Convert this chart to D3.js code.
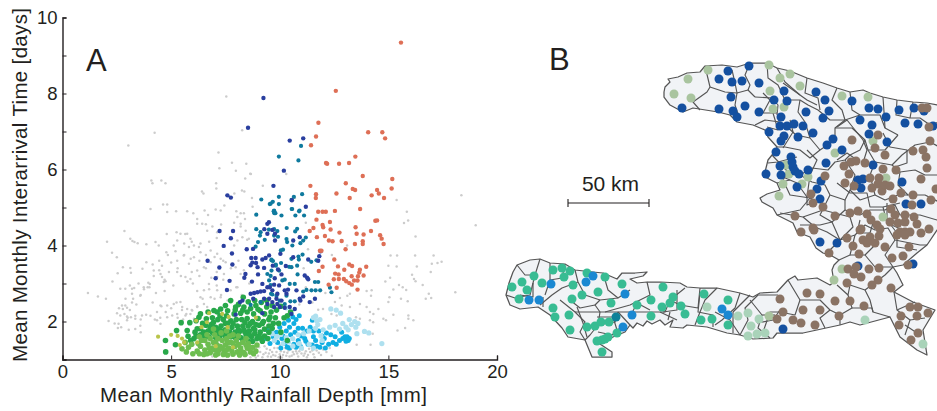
<!DOCTYPE html>
<html>
<head>
<meta charset="utf-8">
<script src="https://cdn.jsdelivr.net/npm/d3@7"></script>
<style>
body { margin: 0; background: #fff; }
svg { display: block; }
text { font-family: "Liberation Sans", Arial, sans-serif; fill: #231f20; }
</style>
</head>
<body>
<script>
// Panel A: [rainfall depth mm, interarrival days]
const greyDots = [[1.17,2.75],[1.63,2.66],[2,2.6],[2.3,3.05],[2.54,3.27],[2.78,3.43],[3.12,3.41],[3.68,3.39],[2.05,4.1],[2.28,3.81],[2.5,3.69],[2.85,4.38],[3.12,4.18],[3.22,4.12],[3.31,4.09],[3.46,4.06],[3.86,4.03],[4.28,4.09],[4.43,4],[4.05,4.96],[4.63,5.08],[4.82,5.08],[4.82,4.88],[5.23,4.9],[6.54,4.92],[5.74,4.9],[6.02,4.85],[6.2,4.7],[6.43,4.57],[6.6,4.56],[7.54,7.92],[4.24,6.97],[3.03,6.63],[7.18,6.45],[7.8,6.18],[8.46,6.15],[7.98,5.97],[7.22,6.03],[8.64,5.89],[8.41,5.76],[7.07,5.64],[7.08,5.5],[4.09,5.71],[4.14,5.64],[4.55,5.71],[4.74,5.64],[6.42,5.42],[6.49,5.37],[8.26,5.45],[8.37,5.42],[7.91,5.37],[8.27,7.03],[8.67,5.88],[10.3,5.88],[9.22,5.57],[8.72,5.25],[8.75,5.02],[18.36,5.32],[15.38,5.2],[15.85,4.89],[15.91,4.66],[15.72,4.59],[19.02,4.53],[16.25,4.24],[15.1,3.74],[15.4,3.74],[16.23,3.74],[17.08,3.74],[17.45,3.57],[17.26,3.54],[17,3.52],[15,3.47],[15.38,3.45],[16.31,3.45],[16.95,3.3],[16.09,3.23],[16.18,3.12],[16.25,3.06],[16.58,2.96],[14.86,3.05],[15.08,3.15],[15.49,2.96],[15.23,2.84],[15.66,2.9],[15.82,2.83],[18.08,2.77],[16.86,2.73],[16.97,2.62],[16.72,2.6],[15.58,2.6],[15.89,2.53],[15.05,2.64],[14.54,2.33],[15,2.51],[14,2.8],[14.23,2.82],[14.2,2.68],[14,2.38],[14.15,2.25],[14.31,2.2],[14.77,2.07],[15.23,2.18],[15.92,2.16],[15.92,2.07],[16.15,2.03],[14.89,2.03],[15.42,1.76],[15.77,1.83],[14.15,2.03],[14.3,1.98],[14.28,1.68],[13.54,1.39],[14.18,1.39],[13.11,2.68],[13.23,2.73],[12.77,2.62],[12.54,2.51],[12.85,2.42],[11.99,2.33],[11.77,2.31],[12.38,2.2],[12.62,2.16],[13.23,2.38],[13.69,2.07],[13.51,2.11],[13.69,2.46],
[3.1,2.95],[3.3,2.88],[3.5,3],[3.75,2.85],[4,2.9],[2.9,2.6],[3.2,2.5],[3.4,2.45],[3.6,2.7],[2.6,2.35],[2.85,2.2],[3,2.1],[3.1,2.3],[3.35,2.15],[3.6,2.05],[3.85,2.18],[2.4,1.95],[2.7,1.85],[3.05,1.78],[3.35,1.8],[3.6,1.72],[4.05,2.15],[3.15,3.28],[3.95,3.02],[4.2,3.2],[4.45,3.35],[4.7,3.1],[4.9,3.3],[5,3.55],[5.3,3.4],[5.45,3.2],[5.1,2.95],[4.7,2.8],[4.3,2.75],[4.15,2.5],[4.55,2.4],[4.75,2.25],[5,2.35],[5.25,2.5],[5.5,2.3],[5.7,2.2],[5.95,2.3],[5.55,2.05],[5.3,2.1],[4.5,2.1],[4.25,2.05],[6.2,2.4],[6.45,2.6],[6.2,2.8],[6,3],[5.75,3.05],[5.95,3.3],[6.3,3.2],[6.6,3.4],[6.85,3.15],[7.1,3.3],[7.1,2.95],[6.75,2.85],[7.3,2.7],[7.6,2.55],[7,2.6],[7.4,3.1],[7.4,3.6],[7,3.7],[6.6,3.75],[6.3,3.6],[5.9,3.65],[5.6,3.75],[5.2,3.85],[4.85,3.75],[4.45,3.6],[4.15,3.5],[5.6,4.05],[5.95,4.1],[6.35,4.05],[6.75,4.1],[7.1,4.2],[7.3,4.55],[6.9,4.5],[5.65,4.3],[5.25,4.35],[4.8,4.3],[8,4.9],[7.9,4.6],[8.2,4.5],[8.4,4.7],[8.5,4.15],[7.9,4],[8.1,3.6],[7.75,3.4],[8.35,3.35],[8.6,3],[8,2.9],[8.25,2.7],[6.7,4.8],[7.05,4.95],[7.45,5.05],
[10.7,5.25],[11.2,4.6],[11.3,3.9],[11.1,3.4],[12.4,3.75],[13.1,4],[12.1,2.75],[10.9,2.45],[11.5,2.5],[11.2,2.9],
[2.74,2.42],[2.89,2.42],[2.97,2.36],[2.78,2.33],[2.51,2.22],[2.66,2.16],[2.97,2.13],[3.15,2.11],[3.35,2.07],[3.66,2.16],[2.58,1.94],[2.97,2.03],[3.58,1.89],[2.12,2.01],[2.55,1.83],[2.66,2.86],[2.89,2.86],[3.2,2.86],[3.2,2.73],[3.25,2.6],[3.58,2.68],[3.74,2.9],[3.92,2.9],[4.02,2.99],[4.66,3.04],[4.74,3.06],[4.51,3.25],[4.58,3.17],[4.2,3.34],[3.86,3.56],[4.58,3.47],[4.78,3.82],[5.12,4],[5.28,3.6],[5.58,3.74],[5.82,3.96],[6.05,4],[6.28,3.96],[6.35,3.82],[6.05,3.69],[5.82,3.52],[5.28,3.3],[5.66,3.17],[5.89,3.12],[6.2,3.34],[6.51,3.43],[6.82,3.56],[7.12,3.78],[7.28,3.65],[7.51,3.56],[6.82,3.87],[5.43,4.31],[5.74,4.31],[5.28,4.13],[5.89,4.18],[6.2,4.57],[6.66,4.39],[7.12,4.35],[7.28,4.92],[8.2,4.85],[8.35,4.85],[8.05,4.75],[8.2,4.57],[8.43,4.39],[8.28,4.22],[8.05,4.13],[8.58,4.18],[4.35,2.25],[4.82,2.42],[5.12,2.46],[5.43,2.51],[5.51,2.38],[5.74,2.33],[5.97,2.29],[6.2,2.38],[6.51,2.46],[6.66,2.38],[4.51,2.42],[4.35,2.03],[4.51,1.94],[4.82,2.11],[5.05,2.16],[5.28,2.2],[5.66,2.16],[5.89,2.2],[6.05,2.07],[6.74,2.99],[7.12,2.82],[6.82,2.64],[7.28,2.64],[6.51,2.82],[6.35,2.64],[7.12,3.17],[7.43,3.25],[8.05,2.9],[7.74,2.82],[8.2,3.25],[7.97,3.43],
[6.6,1.12],[6.9,1.08],[7.1,1.28],[7.3,1.2],[7.55,1.08],[7.8,1.1],[8,1.22],[8.2,1.08],[8.35,1.2],[8.5,1.12],[8.65,1.06],[8.8,1.18],[8.9,1.3],[9,1.1],[9.1,1.2],[9.2,1.06],[9.3,1.35],[9.35,1.18],[9.45,1.08],[9.55,1.25],[9.6,1.42],[9.7,1.12],[9.75,1.3],[9.85,1.2],[9.95,1.06],[10,1.38],[10.05,1.22],[10.15,1.12],[10.25,1.3],[10.3,1.48],[10.35,1.18],[10.45,1.08],[10.5,1.26],[10.6,1.38],[10.65,1.14],[10.75,1.22],[10.85,1.08],[10.95,1.28],[11,1.16],[11.1,1.1],[11.2,1.22],[11.3,1.12],[11.4,1.2],[11.55,1.14],[11.7,1.24],[11.9,1.12],[9.2,1.5],[9.5,1.55],[9.9,1.5],[8.6,1.35],[8.75,1.45],[12.15,1.2],[12.4,1.1],[7.4,1.42],[7.7,1.3],
[8.9,1.05],[8.95,1.2],[9.05,1.32],[9.25,1.14],[9.4,1.28],[9.5,1.16],[9.6,1.07],[9.65,1.2],[9.8,1.1],[9.9,1.3],[10,1.14],[10.1,1.05],[10.1,1.28],[10.2,1.2],[10.3,1.1],[10.4,1.24],[10.55,1.1],[10.6,1.2],[10.7,1.3],[10.8,1.16],[10.9,1.22],[11.05,1.26],[11.15,1.16],[11.25,1.06],[11.35,1.28],[11.5,1.24],[11.6,1.06],[11.8,1.18],[12,1.26],[12.3,1.3]];
const cyanDots = [[9.4,1.78],[9.6,1.75],[9.7,1.6],[9.85,1.72],[10,1.85],[10.2,1.95],[10.4,2.03],[10.45,1.85],[10.6,2.12],[10.5,1.65],[10.7,1.72],[10.85,1.82],[10.75,2.05],[10.9,2.15],[10.1,1.55],[9.9,1.45],[10.25,1.42],[10.45,1.3],[10.65,1.4],[10.85,1.5],[11,1.62],[11.15,1.55],[11.25,1.75],[11.05,1.82],[11.4,1.85],[11.55,1.6],[11.65,1.5],[11.3,1.4],[11.5,1.38],[11.7,1.35],[11.95,1.45],[12.05,1.55],[12.15,1.7],[12.35,1.65],[12.55,1.6],[12.45,1.45],[12.6,1.4],[12.25,1.4],[12.1,1.3],[12.9,1.55],[13,1.6],[13.15,1.5],[13.1,1.6],[13.05,1.48],[11.8,1.75],[11.95,1.62],[11.55,1.75],[11.2,1.48],[10.95,1.35],[10.75,1.32],[10.35,1.32],[10.15,1.62],[10.3,1.75],[9.55,1.42],[9.35,1.55],[10.65,1.95],[11.5,2.03],[10.05,1.3],[12.85,1.72],[12.75,1.5],[11.85,1.32],[13.2,1.55]];
const paleDots = [[14.7,1.42],[12.8,2.22],[13.45,2],[13.6,1.95],[13.3,1.92],[13.5,1.85],[13.2,2.05],[13.05,1.85],[12.9,1.95],[12.35,2.33],[12.6,2.3],[11.7,2.02],[11.55,2.1],[11.85,2.05],[11.75,1.92],[11.65,1.82],[12,1.78],[12.3,1.85],[12.55,1.9],[12.75,1.8],[13.15,1.78],[13.9,1.74],[14.1,1.7],[13.55,1.68],[11.35,1.75],[11.1,1.68],[10.85,1.65],[10.6,1.55],[10.3,1.58],[10.05,1.66],[9.85,1.6],[9.65,1.68],[10.15,1.42],[10.6,1.35],[10.9,1.42],[11,1.3],[11.35,1.4],[11.55,1.3],[11.95,1.5],[10.3,2.36],[11.65,2.14],[11.9,1.62],[9.75,1.5],[10.4,1.46]];
const oliveDots = [[4.4,1.6],[5,1.65],[5.3,1.62],[5.6,1.45],[5.4,1.38],[6.65,1.98],[6.75,2.22],[7.35,2.2],[7.65,2.12],[8.9,2.1],[7.6,1.85],[6.2,1.45],[6.15,2.02],[7.05,1.35],[5.5,1.55],[6.4,1.85],[7.85,1.32]];
const greenDots = [[4.75,1.2],[4.74,1.5],[5.2,1.39],[5.25,1.76],[5.46,1.97],[5.86,1.97],[5.74,1.76],[5.78,1.61],[6.2,1.81],[6.35,1.81],[6.28,2.11],[6.62,2.07],[6.35,2.2],[6.97,2.29],[7.12,2.25],[7.28,2.33],[7.74,2.55],[8.32,2.64],[7.97,2.38],[8.35,2.38],[8.66,2.34],[8.9,2.42],[9.15,2.5],[9.4,2.38],[9.6,2.25],[9.8,2.1],[9.95,1.95],[9.7,1.95],[9.5,2.05],[9.3,2.2],[9.1,2.28],[8.8,2.2],[8.5,2.25],[8.2,2.22],[7.9,2.2],[7.6,2.28],[7.4,2.05],[7.15,2.05],[6.9,2.1],[6.6,1.9],[6.85,1.92],[7.05,1.85],[7.3,1.88],[7.5,1.95],[7.75,2.02],[8,2.05],[8.25,2.05],[8.5,2.08],[8.75,2],[9,2.08],[9.25,2],[9.5,1.88],[9.3,1.8],[9.05,1.9],[8.8,1.82],[8.55,1.88],[8.3,1.88],[8.05,1.88],[7.8,1.85],[6.5,1.72],[6.7,1.75],[6.9,1.72],[7.1,1.72],[7.3,1.75],[7.5,1.78],[7.7,1.72],[7.95,1.72],[8.15,1.74],[8.4,1.72],[8.6,1.75],[8.85,1.68],[9.1,1.72],[9.3,1.62],[9.5,1.72],[9.15,1.55],[8.95,1.55],[8.7,1.6],[8.45,1.62],[8.2,1.58],[7.95,1.58],[7.75,1.6],[7.5,1.62],[7.25,1.62],[7.05,1.58],[6.75,1.6],[6.55,1.6],[6.35,1.65],[6.05,1.55],[5.9,1.5],[6.15,1.62],[8.55,1.48],[8.3,1.52],[9.45,1.55],[9.65,1.82],[10.05,1.72],[10.2,2.1],[9.85,2.3],[10.05,2.4],[10.35,2.15],[10.5,2.25],[9.65,2.42],[9.4,2.55],[8.1,2.45],[8.55,2.52],[7.55,2.15],[7.25,2.15],[6.95,1.98],[7.6,1.95],[8.65,1.95],[8.9,1.92],[9.2,1.95],[8.4,1.98],[7.85,1.95],[8.1,1.78],[7.6,1.68],[7.4,1.68],[7.2,1.8],[6.8,1.85],[6.45,1.95],[8.35,1.78],[8.6,1.65],[8.85,1.78],[9.05,1.62],[9.2,1.48],[8.75,1.48],[6.15,2.02],[6.1,1.72],[8.3,2.3],[7.95,2.3],[9,2.32],[9.55,2.12],[10.35,1.5],[6.7,2.25],[7.5,2.42],[8.85,2.55]];
const lightGreenDots = [[6,1.15],[6.2,1.22],[6.35,1.35],[6.3,1.15],[6.5,1.13],[6.55,1.25],[6.7,1.4],[6.55,1.5],[6.8,1.55],[6.9,1.3],[7,1.65],[7.05,1.45],[7.15,1.55],[7.25,1.35],[7.35,1.5],[7.45,1.2],[7.5,1.38],[7.55,1.55],[7.6,1.12],[7.65,1.3],[7.75,1.45],[7.8,1.22],[7.85,1.14],[7.95,1.35],[8,1.5],[8.05,1.2],[8.15,1.12],[8.2,1.3],[8.3,1.45],[8.35,1.18],[8.4,1.13],[8.5,1.3],[8.55,1.42],[8.65,1.2],[8.75,1.32],[8.8,1.15],[7,1.25],[7.15,1.15],[6.8,1.18],[6.4,1.5],[6.25,1.42],[5.95,1.4],[5.8,1.32],[5.7,1.2],[5.5,1.28],[5.65,1.45],[7.3,1.7],[7.55,1.75],[6.95,1.8],[7.85,1.65],[8.1,1.62],[8.45,1.55],[7.2,1.25],[7.4,1.13],[7.7,1.62],[6.65,1.65],[6.3,1.6],[6.75,1.3],[6.95,1.45],[7.1,1.38],[7.35,1.3],[7.6,1.45],[7.85,1.42],[8.1,1.4],[8.25,1.2],[8.45,1.38],[8.6,1.32],[8.9,1.22],[8.95,1.38],[7.55,1.25],[7.05,1.12],[6.65,1.15]];
const blueDots = [[9.25,7.88],[10.46,6.76],[11.08,6.82],[10.19,5.97],[9.71,5.57],[10.56,5.19],[11.2,5.02],[8.54,7.1],[7.59,5.32],[7.75,5.26],[9.5,4.61],[9.43,4.57],[9.29,4.43],[7.23,4.38],[7.85,4.38],[7.75,4.19],[7.42,3.99],[8.48,3.9],[8.77,3.91],[7.8,3.79],[6.68,3.6],[7.82,3.5],[7.22,3.42],[7.05,3.14],[7.69,3.07],[7.57,2.83],[8.37,3.15],[8.42,3.25],[8.72,3.05],[9,3.24],[9.43,4.31],[8.69,3.67],[8.89,3.67],[8.74,3.55],[8.91,3.54],[9.2,3.63],[9.35,3.67],[9.51,3.74],[8.66,3.48],[8.98,3.43],[9.28,3.41],[9.68,3.47],[8.66,2.73],[8.82,2.75],[8.97,2.77],[9.12,2.79],[9.28,2.8],[9.2,2.99],[9.43,2.9],[9.66,2.82],[9.74,2.97],[9.89,2.73],[8.28,2.55],[8.17,2.51],[8.78,2.6],[9.28,2.6],[9.51,2.6],[9.89,2.46],[9.43,2.46],[9.74,2.38],[7.97,2.18],[9.2,2.22],[9.78,4.31],[9.78,4.13],[9.66,4.41],[10.62,4.13],[10.92,4.22],[10.03,3.78],[11.82,3.72],[11.88,3.85],[11.77,3.6],[11.31,3.63],[10.62,3.69],[9.92,3.37],[10.28,3.46],[11.15,3.21],[11.26,3.15],[11.31,3.11],[10.08,3.24],[9.77,3.14],[9.97,2.95],[10.23,2.82],[10.38,2.84],[10.31,2.73],[9.85,2.6],[10.08,2.55],[9.66,2.51],[11.08,2.66],[10.95,2.55],[11.62,2.6],[11.38,2.51],[10.46,2.38],[10.69,2.33],[10.23,2.36],[10,2.38],[10.54,2.2],[10.77,2.82],[10.92,2.6],[9.54,2.9]];
const tealDots = [[10.98,6.62],[9.96,6.34],[10.86,6.24],[9.96,5.28],[10.65,5.28],[11.03,5.35],[9.15,5.21],[9.68,5.15],[9.54,5.09],[9.96,5.09],[10.57,4.96],[10.91,4.92],[9.74,4.92],[9.58,5.1],[9.74,4.9],[9.8,4.85],[8.92,4.81],[8.92,4.43],[9.12,4.35],[9.09,4.26],[9.31,4.15],[9.74,4.43],[9.5,4.42],[9.89,4.38],[9.74,4.26],[9,4.09],[8.89,3.97],[9.62,3.61],[9.82,3.5],[9.43,3.25],[9.58,3.2],[9.51,3.08],[9.97,3.34],[9.58,2.96],[9.12,2.51],[8.66,2.44],[9.66,2.71],[9.72,4.9],[10.54,5.2],[10.55,4.96],[10.72,4.79],[10.89,4.9],[11.12,4.79],[10.08,4.79],[9.75,4.85],[10.32,4.46],[10.71,4.37],[10.8,4.44],[9.92,4.23],[10.31,4.17],[10.34,4.09],[10.58,4],[10.95,4.06],[11.08,4.13],[11.2,4.21],[10.05,3.87],[10.15,3.89],[10.86,3.71],[11.05,3.76],[10.54,3.65],[10.88,3.63],[11.45,3.57],[11.69,3.61],[9.62,3.63],[9.69,3.59],[10.06,3.54],[10.43,3.44],[10.54,3.43],[10.8,3.47],[9.82,3.47],[9.62,3.34],[10.82,3.24],[10.12,3.08],[10.23,3.1],[10.46,2.99],[10.69,2.99],[11.62,3.04],[11.77,3.04],[12.31,2.89],[12.38,2.77],[11.23,2.83],[11.46,2.82],[11.65,2.82],[11.86,2.82],[11.08,2.79],[9.6,2.73],[9.85,2.68],[10.23,2.46],[10.49,2.53],[10.69,2.53],[10.31,2.68],[10,2.55]];
const orangeDots = [[15.58,9.34],[12.58,8.07],[11.78,7.23],[14.07,6.98],[14.72,6.98],[14.85,6.82],[11.67,6.87],[11.44,6.64],[13.48,6.34],[12.13,6.17],[12.18,6.15],[12.73,6.15],[13.19,6.17],[13.82,5.83],[15.18,5.75],[13.04,5.64],[11.41,5.57],[13.36,5.49],[13.47,5.46],[15.15,5.5],[14.48,5.46],[14.56,5.37],[12.61,5.37],[11.67,5.35],[11.66,5.25],[14.23,5.32],[14.8,5.25],[13.22,5.25],[13.7,4.96],[11.77,4.89],[11.97,4.89],[12.12,4.89],[12.54,4.91],[11.69,4.68],[12.31,4.62],[11.97,4.54],[12,4.48],[11.55,4.46],[11.38,4.38],[12.34,4.42],[12.75,4.34],[14.4,4.65],[14.48,4.66],[13.49,4.48],[13.54,4.31],[13.86,4.29],[14.2,4.38],[14.62,4.27],[14.69,4.18],[14.78,4.04],[11.71,4.22],[12.08,4.25],[12.26,4.13],[12.43,4.11],[12.85,4.12],[13.46,4.04],[13.82,4.11],[13.82,4.04],[13.03,3.9],[11.85,3.86],[11.92,3.86],[12.51,3.63],[13.2,3.5],[12.68,3.45],[13.33,3.46],[13.98,3.44],[12.97,3.36],[13.69,3.36],[11.97,3.44],[11.8,3.33],[12.55,3.26],[12.71,3.24],[13.31,3.19],[13.66,3.29],[13.86,3.21],[13.6,3.19],[12.49,3.11],[12.72,3.12],[12.95,3.12],[13.06,3.06],[13.2,3.01],[13.32,2.97],[13.42,3.08],[13.58,3.08],[12.25,2.97],[12.62,2.89],[13.58,2.84]];

const xTicks = [0, 5, 10, 15, 20];
const yTicks = [1, 2, 3, 4, 5, 6, 7, 8, 9, 10];
const yLabels = [2, 4, 6, 8, 10];

// Panel B: everything in map grid units, scale bar is 50 km = 81 units
const haitiOutline = [[164,42],[165,37],[170,32],[168,29],[178,27],[187,23],[200,22],[205,16],[222,15],[237,17],[250,13],[267,13],[277,18],[290,21],[307,28],[323,33],[337,38],[350,42],[363,40],[370,43],[383,47],[397,50],[413,52],[427,53],[437,55],[445,55],[445,178],[437,180],[427,195],[417,203],[403,215],[393,217],[397,223],[403,235],[394,242],[413,252],[435,260],[423,280],[427,305],[417,300],[400,287],[390,267],[360,275],[350,272],[340,275],[303,283],[277,283],[273,288],[253,289],[240,285],[227,283],[207,277],[187,275],[183,278],[170,277],[173,270],[165,275],[160,270],[152,274],[147,271],[143,276],[137,273],[133,278],[130,275],[125,282],[113,287],[100,294],[112,302],[112,307],[92,307],[85,290],[68,287],[62,278],[50,265],[38,257],[20,259],[10,255],[6,245],[9,233],[13,222],[17,215],[30,210],[40,209],[50,213],[65,214],[75,220],[93,222],[103,223],[117,229],[122,223],[135,223],[147,222],[143,226],[130,229],[137,233],[147,232],[160,232],[180,233],[187,237],[200,238],[217,238],[240,243],[253,247],[260,243],[277,242],[288,230],[295,226],[298,230],[317,228],[330,235],[334,232],[332,220],[334,215],[339,210],[332,206],[323,203],[316,198],[310,187],[297,182],[293,173],[277,165],[273,158],[262,152],[260,148],[267,144],[280,140],[277,133],[265,127],[265,122],[268,110],[272,105],[277,97],[268,87],[265,80],[253,75],[237,72],[230,65],[218,62],[193,58],[183,62],[170,55],[164,47]];
const communeLines = [
[[205,16],[210,37],[207,42],[193,52],[200,60]],[[232,20],[235,33],[237,43],[248,40],[255,47]],[[210,37],[225,42],[237,43]],[[237,43],[235,55],[240,70]],[[255,47],[272,48],[278,55],[277,65]],[[250,13],[245,25],[250,35],[248,40]],[[267,13],[268,28],[278,35],[285,50],[300,50],[308,55],[318,60],[330,70],[345,70]],[[277,18],[285,32],[300,45]],[[307,28],[305,43],[318,48],[320,60]],[[337,38],[332,50],[342,60],[345,70],[360,65],[380,65],[385,78],[398,85]],[[350,42],[352,60],[360,65]],[[383,47],[384,62],[385,78]],[[397,50],[396,65],[410,68]],[[413,52],[410,68],[420,68],[430,75],[445,70]],[[345,70],[335,78],[335,90],[320,100],[310,108],[300,100],[285,97],[277,97]],[[285,75],[296,85],[310,88],[320,100]],[[255,75],[265,70],[280,72],[285,75]],[[300,50],[298,62],[305,72],[310,88]],[[335,78],[352,78],[365,90],[368,100],[385,100],[398,85]],[[365,90],[360,100],[350,105],[345,110],[335,112],[328,120],[312,118],[300,125],[288,122],[272,105]],[[368,100],[375,112],[392,115],[402,105],[415,95],[430,92],[445,100]],[[392,115],[400,122],[415,120],[425,125],[445,125]],[[345,110],[355,125],[350,140],[345,150],[330,145],[325,135],[312,132],[300,125]],[[375,112],[370,125],[375,145],[360,150],[350,140]],[[400,122],[398,135],[408,145],[425,145],[445,155]],[[375,145],[385,150],[398,145],[408,145]],[[288,122],[283,130],[290,145],[310,148],[325,155],[330,145]],[[277,133],[290,130]],[[325,155],[320,165],[332,172],[345,160],[345,150]],[[345,160],[360,165],[370,160],[385,160],[395,155]],[[395,155],[400,165],[420,165],[437,170],[445,165]],[[277,165],[300,160],[310,148]],[[332,172],[340,190],[330,200],[332,206]],[[300,175],[320,175],[332,172]],[[340,190],[355,185],[365,175],[375,180],[388,178],[395,190],[420,195],[427,195]],[[355,185],[350,205],[339,210]],[[350,205],[365,205],[375,195]],[[395,190],[385,205],[393,217]],[[365,205],[375,217],[393,217]],
[[337,235],[348,245],[350,235],[365,240],[385,225],[393,217]],[[348,245],[352,258],[340,265],[340,275]],[[288,230],[300,250],[320,250],[330,260],[340,265]],[[300,250],[295,265],[280,262],[270,262],[262,285]],[[330,260],[320,268],[325,278]],[[365,240],[370,250],[373,262],[390,267]],[[352,258],[372,258],[373,262]],[[394,242],[397,260],[410,270],[405,285]],[[397,260],[415,252]],[[410,270],[425,268]],[[405,275],[420,285]],
[[278,245],[258,245],[245,258],[248,270],[240,285]],[[240,243],[235,258],[222,270],[215,275]],[[217,238],[205,250],[200,262],[195,275]],[[200,238],[198,258],[180,255],[170,250],[185,238]],[[170,250],[165,262],[140,262],[100,262],[95,255],[80,258],[70,250]],[[147,232],[150,245],[130,255],[105,262]],[[130,240],[118,248],[100,250],[95,255]],[[103,223],[108,240],[118,248]],[[75,220],[78,232],[85,245],[100,250]],[[78,232],[62,238],[52,245],[40,255]],[[65,214],[62,228],[50,230],[45,245]],[[50,213],[50,230]],[[40,209],[35,225],[30,245],[15,248],[6,245]],[[17,215],[25,225],[35,225]],[[60,250],[75,262],[85,272],[80,282],[85,290]],[[75,262],[100,262],[98,275],[90,285],[85,290]],[[98,275],[115,272],[118,262]],[[98,282],[112,285],[120,278]],[[118,262],[130,275]],[[170,262],[168,270]],[[215,262],[230,270],[240,285]],[[250,250],[262,265],[258,278],[270,288]],[[262,265],[275,265]],
[[283,33],[293,40],[307,50],[317,55]],[[263,43],[270,50],[263,63],[277,63]],[[273,63],[278,80],[267,77]],[[290,70],[293,82],[283,98]],[[337,77],[347,70],[363,90],[367,100],[363,113]],[[383,83],[390,97],[407,100],[407,113],[395,117]],[[357,110],[347,103],[337,110]],[[307,100],[317,110],[310,125],[307,147]],[[268,113],[278,112],[297,107]],[[278,112],[283,127],[297,133],[307,147],[307,155],[323,150]],[[337,133],[350,143],[367,143],[370,157],[383,157],[400,153]],[[383,157],[387,173],[403,180]],[[360,170],[357,183],[370,183],[373,173]],[[387,153],[387,170],[397,183],[397,197],[417,200]],[[303,167],[315,177],[327,182],[340,190],[353,177],[350,167]],[[280,163],[303,167],[323,160],[350,167]],
[[33,233],[33,247],[20,245]],[[43,247],[43,257]],[[77,257],[83,273],[87,287]],[[97,267],[113,267],[117,280]],[[130,267],[137,253],[150,260]],[[160,262],[177,270]],[[177,240],[177,260],[163,262]],[[200,243],[198,262],[213,265],[213,277]],[[233,262],[233,283]],[[250,245],[233,262]],[[257,273],[273,270],[280,260]]];

const brownSites = [[378,85],[352,90],[375,98],[385,105],[413,101],[423,100],[426,107],[429,77],[430,91],[427,58],[422,58],[344,116],[351,112],[356,111],[365,113],[383,119],[396,120],[427,118],[349,124],[345,133],[325,126],[354,136],[370,128],[379,128],[372,138],[378,134],[382,141],[385,135],[390,136],[421,129],[436,139],[401,143],[413,145],[393,149],[431,150],[412,155],[311,144],[313,153],[323,157],[295,166],[335,166],[350,163],[358,161],[367,164],[391,159],[395,165],[405,165],[414,167],[371,170],[377,175],[390,172],[398,173],[405,172],[417,174],[361,179],[380,179],[313,178],[429,179],[421,183],[410,182],[405,182],[400,182],[397,185],[405,185],[360,180],[379,186],[370,187],[363,190],[367,193],[375,193],[385,197],[409,197],[353,196],[359,204],[392,208],[403,206],[301,182],[314,180],[347,188],[329,203],[408,215],[348,219],[356,217],[369,219],[379,218],[354,224],[361,227],[378,230],[372,235],[347,233],[391,238],[307,243],[320,244],[280,249],[335,251],[350,251],[364,256],[303,260],[320,260],[339,266],[283,262],[277,269],[293,270],[301,273],[315,275],[410,257],[418,257],[428,263],[401,266],[417,266],[399,275],[418,283],[411,290]];
const navySites = [[182,58],[219,59],[219,29],[228,21],[232,32],[242,31],[249,16],[259,33],[231,47],[245,56],[233,61],[237,67],[259,62],[284,41],[274,50],[287,51],[281,67],[306,62],[316,42],[325,50],[329,61],[323,68],[352,51],[369,58],[378,59],[386,67],[399,60],[414,58],[424,61],[405,73],[418,74],[433,76],[360,70],[372,75],[369,84],[387,92],[280,76],[287,76],[294,74],[303,76],[313,83],[269,82],[284,86],[281,91],[298,87],[333,89],[327,95],[342,100],[276,102],[291,107],[292,112],[293,117],[280,116],[295,121],[299,124],[308,120],[326,113],[373,115],[266,124],[281,125],[321,131],[317,139],[297,137],[320,149],[358,130],[363,129],[361,138],[402,132],[406,154],[421,154],[320,192],[337,193],[358,216],[413,214],[283,279]];
const sageSites = [[174,44],[191,48],[188,29],[208,20],[269,15],[280,28],[290,24],[300,36],[270,41],[273,59],[284,57],[342,46],[368,47],[373,91],[335,103],[286,115],[289,124],[308,127],[302,134],[283,134],[279,146],[386,128],[383,167],[342,219],[334,230],[269,266]];
const jadeSites = [[12,237],[22,232],[34,226],[27,240],[19,249],[42,233],[53,220],[62,218],[70,221],[64,227],[73,235],[72,249],[82,245],[87,223],[105,227],[98,242],[122,234],[111,253],[53,258],[55,267],[69,265],[70,280],[87,277],[95,276],[101,272],[109,272],[117,283],[108,287],[105,289],[102,290],[97,291],[102,302],[137,255],[151,250],[163,237],[173,247],[170,253],[162,257],[151,266],[181,256],[185,264],[201,270],[204,244],[228,250],[212,269],[228,275]];
const skySites = [[51,234],[29,250],[39,250],[93,226],[86,232],[125,244],[132,265],[123,277],[222,259],[228,265]];
const deepTealSites = [[116,267]];
const mintSites = [[207,257],[238,266],[248,263],[259,269],[251,276],[248,286],[257,284],[265,283],[365,270],[423,294]];

const width = 937;
const height = 411;

const svg = d3.select("body").append("svg").attr("width", width).attr("height", height);

const xScale = d3.scaleLinear().domain([0, 20]).range([62.5, 497]);
const yScale = d3.scaleLinear().domain([1, 10]).range([359.5, 17.5]);
const mapX = d3.scaleLinear().domain([0, 437]).range([500, 937]);
const mapY = d3.scaleLinear().domain([0, 361]).range([50, 411]);

const scatter = svg.append("g");

function drawDots(rows, colour, radius) {
  scatter.append("g").selectAll("circle").data(rows).join("circle")
    .attr("cx", (d) => xScale(d[0]))
    .attr("cy", (d) => yScale(d[1]))
    .attr("r", radius)
    .attr("fill", colour);
}

drawDots(greyDots, "#cccccc", 1.25);
drawDots(cyanDots, "#10aee2", 2.5);
drawDots(paleDots, "#aee0ef", 2.6);
drawDots(greenDots, "#28a84a", 2.8);
drawDots(lightGreenDots, "#6cbd4f", 2.8);
drawDots(oliveDots, "#b9c44a", 2.1);
drawDots(tealDots, "#0f7a9e", 2.1);
drawDots(blueDots, "#2a3f9f", 2.2);
drawDots(orangeDots, "#de6f56", 2.2);

// axes
const xAxis = d3.axisBottom(xScale).tickValues(xTicks).tickSize(-4).tickPadding(5).tickFormat(d3.format("d"));
const yAxis = d3.axisLeft(yScale).tickValues(yTicks).tickSize(-4).tickPadding(5)
  .tickFormat((d) => (yLabels.includes(d) ? d : ""));

svg.append("g").attr("transform", "translate(0,359.5)").call(xAxis);
svg.append("g").attr("transform", "translate(62.5,0)").call(yAxis);
svg.selectAll(".domain").attr("stroke", "#231f20").attr("stroke-width", 1.4);
svg.selectAll(".tick line").attr("stroke", "#231f20").attr("stroke-width", 1);
svg.selectAll(".tick text").attr("font-size", 18.5);

svg.append("text").attr("x", 263.5).attr("y", 402).attr("text-anchor", "middle")
  .attr("font-size", 20.5).attr("textLength", 327).text("Mean Monthly Rainfall Depth [mm]");
svg.append("text").attr("transform", "translate(26.5,185) rotate(-90)").attr("text-anchor", "middle")
  .attr("font-size", 20.5).attr("textLength", 354).text("Mean Monthly Interarrival Time [days]");
svg.append("text").attr("x", 86).attr("y", 71).attr("font-size", 31).text("A");
svg.append("text").attr("x", 549).attr("y", 70).attr("font-size", 31).text("B");

// map
const mapLine = d3.line().x((d) => mapX(d[0])).y((d) => mapY(d[1]));
const map = svg.append("g");

map.append("path").attr("d", mapLine(haitiOutline) + "Z")
  .attr("fill", "#f1f3f6").attr("stroke", "#555555").attr("stroke-width", 1.25).attr("stroke-linejoin", "round");
map.append("g").selectAll("path").data(communeLines).join("path")
  .attr("d", mapLine)
  .attr("fill", "none").attr("stroke", "#555555").attr("stroke-width", 1.15).attr("stroke-linejoin", "round");

function drawSites(rows, colour) {
  map.append("g").selectAll("circle").data(rows).join("circle")
    .attr("cx", (d) => mapX(d[0]))
    .attr("cy", (d) => mapY(d[1]))
    .attr("r", 4.5)
    .attr("fill", colour);
}

drawSites(sageSites, "#a9c49f");
drawSites(mintSites, "#a9d3b9");
drawSites(jadeSites, "#38bc93");
drawSites(skySites, "#1a88d2");
drawSites(deepTealSites, "#0d8199");
drawSites(navySites, "#1450a0");
drawSites(brownSites, "#8a7364");

// scale bar
const barLeft = 68;
const barRight = 149;
const barY = 153;
svg.append("path")
  .attr("d", `M${mapX(barLeft)},${mapY(barY) - 4}V${mapY(barY) + 4}M${mapX(barLeft)},${mapY(barY)}H${mapX(barRight)}M${mapX(barRight)},${mapY(barY) - 4}V${mapY(barY) + 4}`)
  .attr("fill", "none").attr("stroke", "#231f20").attr("stroke-width", 1.1);
svg.append("text").attr("x", 610.5).attr("y", 191).attr("text-anchor", "middle")
  .attr("font-size", 21).text("50 km");
</script>
</body>
</html>
